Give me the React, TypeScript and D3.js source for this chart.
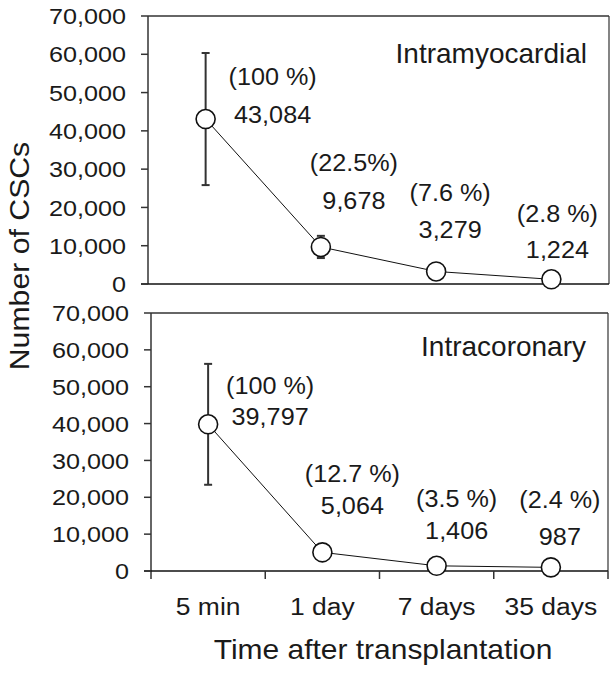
import React from "react";
import * as d3 from "d3";

const categories = ["5 min", "1 day", "7 days", "35 days"];
const yTicks = [0, 10000, 20000, 30000, 40000, 50000, 60000, 70000];

const intramyoMeans = [43084, 9678, 3279, 1224];
const intramyoErr = [17250, 2900, 1000, 500];
const intramyoPct = ["(100 %)", "(22.5%)", "(7.6 %)", "(2.8 %)"];

const intracorMeans = [39797, 5064, 1406, 987];
const intracorErr = [16400, 1500, 700, 400];
const intracorPct = ["(100 %)", "(12.7 %)", "(3.5 %)", "(2.4 %)"];

// label layout (pixel offsets from each point)
const topLabelDx = [67, 33, 14, 6];
const topNumDy = [4, -38, -33, -21];
const topPctDy = [-34, -76, -70, -57];
const botLabelDx = [62, 30, 20, 9];
const botNumDy = [1, -38, -27, -22];
const botPctDy = [-30, -70, -59, -59];

const FONT = "'Liberation Sans', Arial, Helvetica, sans-serif";
const fmt = d3.format(",");

function SText({ x, y, sx = 1, rot = 0, anchor = "middle", size = 20, dy = "0", children }: any) {
  return (
    <g transform={`translate(${x},${y}) rotate(${rot})`}>
      <text
        transform={`scale(${sx},1)`}
        textAnchor={anchor}
        fontSize={size}
        fontFamily={FONT}
        fill="#1a1a1a"
        dy={dy}
      >
        {children}
      </text>
    </g>
  );
}

function Panel({ left, right, top, bottom, means, errs, pcts, dxs, numDys, pctDys, label, labelY, xTicks }: any) {
  const x = d3.scaleBand<string>().domain(categories).range([left, right]);
  const y = d3.scaleLinear().domain([0, 70000]).range([bottom, top]);
  const cx = (c: string) => (x(c) as number) + x.bandwidth() / 2;
  const line = d3
    .line<number>()
    .x((_, i) => cx(categories[i]))
    .y((d) => y(d));
  const axisColor = "#333";
  return (
    <g>
      {/* frame */}
      <line x1={left} x2={right} y1={top} y2={top} stroke={axisColor} strokeWidth={1.5} />
      <line x1={right} x2={right} y1={top} y2={bottom} stroke={axisColor} strokeWidth={1.2} />
      <line x1={left} x2={left} y1={top} y2={bottom + (xTicks ? 8 : 0)} stroke={axisColor} strokeWidth={1.5} />
      <line x1={left - 7} x2={right} y1={bottom} y2={bottom} stroke="#111" strokeWidth={1.5} />
      {yTicks.map((t) => (
        <g key={t}>
          <line x1={left - 7} x2={left} y1={y(t)} y2={y(t)} stroke={axisColor} strokeWidth={1.5} />
          <SText x={left - 22} y={y(t)} anchor="end" size={22.5} sx={1.12} dy="0.36em">
            {fmt(t)}
          </SText>
        </g>
      ))}
      {xTicks &&
        categories.map((c, i) => (
          <g key={c}>
            {i > 0 && (
              <line x1={x(c)} x2={x(c)} y1={bottom} y2={bottom + 8} stroke={axisColor} strokeWidth={1.5} />
            )}
            <SText x={cx(c)} y={bottom + 44} size={24.5} sx={1.08}>
              {c}
            </SText>
          </g>
        ))}
      {xTicks && <line x1={right} x2={right} y1={bottom} y2={bottom + 8} stroke={axisColor} strokeWidth={1.5} />}
      {/* error bars */}
      {means.map((m: number, i: number) => {
        const c = cx(categories[i]);
        return (
          <g key={"e" + i} stroke="#333" strokeWidth={2}>
            <line x1={c} x2={c} y1={y(m + errs[i])} y2={y(m - errs[i])} />
            <line x1={c - 4} x2={c + 4} y1={y(m + errs[i])} y2={y(m + errs[i])} />
            <line x1={c - 4} x2={c + 4} y1={y(m - errs[i])} y2={y(m - errs[i])} />
          </g>
        );
      })}
      <path d={line(means) as string} fill="none" stroke="#111" strokeWidth={1} />
      {means.map((m: number, i: number) => (
        <circle key={"c" + i} cx={cx(categories[i])} cy={y(m)} r={9.5} fill="#fff" stroke="#111" strokeWidth={1.6} />
      ))}
      {means.map((m: number, i: number) => {
        const px = cx(categories[i]) + dxs[i];
        const py = y(m);
        return (
          <g key={"l" + i}>
            <SText x={px} y={py + pctDys[i]} size={24} sx={1.05}>
              {pcts[i]}
            </SText>
            <SText x={px} y={py + numDys[i]} size={24} sx={1.05}>
              {fmt(m)}
            </SText>
          </g>
        );
      })}
      <SText x={right - 22} y={labelY} anchor="end" size={28}>
        {label}
      </SText>
    </g>
  );
}

export default function App() {
  return (
    <svg
      width={616}
      height={674}
      style={{ position: "absolute", left: 0, top: 0, background: "#fff" }}
    >
      <rect width={616} height={674} fill="#fff" />
      <Panel
        left={148}
        right={609}
        top={16}
        bottom={284}
        means={intramyoMeans}
        errs={intramyoErr}
        pcts={intramyoPct}
        dxs={topLabelDx}
        numDys={topNumDy}
        pctDys={topPctDy}
        label="Intramyocardial"
        labelY={63}
        xTicks={false}
      />
      <Panel
        left={151}
        right={608}
        top={313}
        bottom={571}
        means={intracorMeans}
        errs={intracorErr}
        pcts={intracorPct}
        dxs={botLabelDx}
        numDys={botNumDy}
        pctDys={botPctDy}
        label="Intracoronary"
        labelY={356}
        xTicks={true}
      />
      <SText x={29} y={256} rot={-90} size={27} sx={1.12}>
        Number of CSCs
      </SText>
      <SText x={383} y={659} size={27} sx={1.11}>
        Time after transplantation
      </SText>
    </svg>
  );
}
